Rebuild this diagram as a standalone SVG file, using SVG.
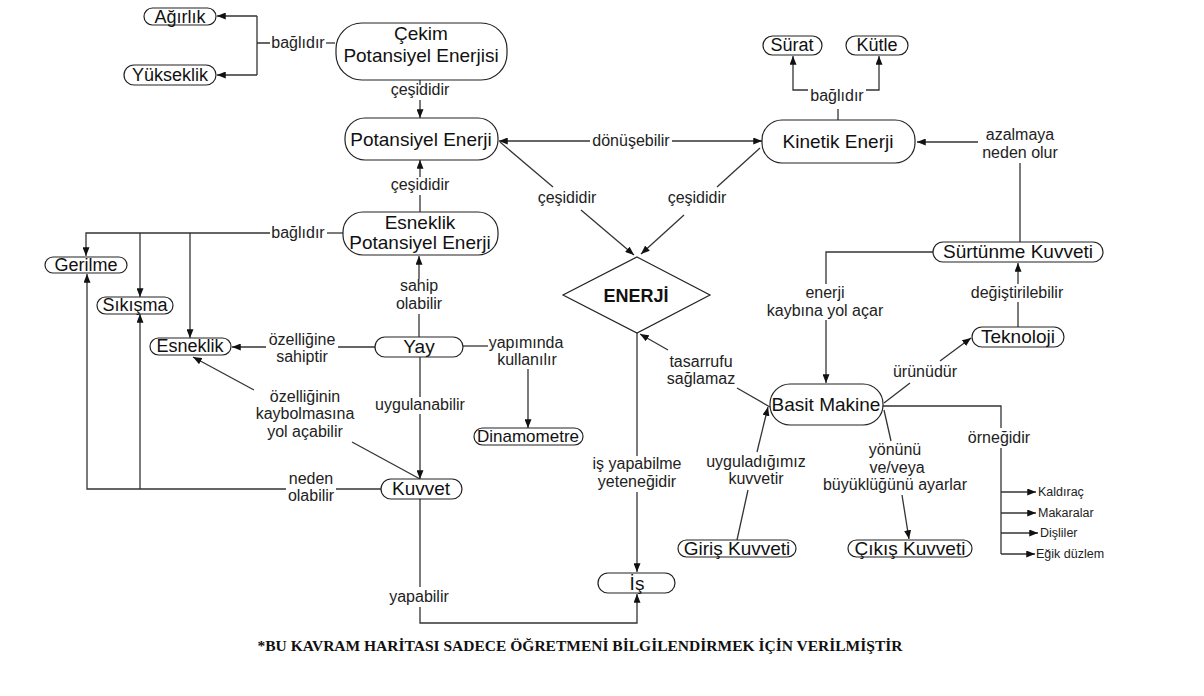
<svg xmlns="http://www.w3.org/2000/svg" width="1204" height="696" viewBox="0 0 1204 696">
<style>
.box{fill:#fff;stroke:#222;stroke-width:1.2}
.n{font-family:"Liberation Sans",Arial,sans-serif;font-size:19px;text-anchor:middle;fill:#111}
.ns{font-size:18px}
.l{font-family:"Liberation Sans",Arial,sans-serif;font-size:16px;text-anchor:middle;fill:#222}
.li{font-family:"Liberation Sans",Arial,sans-serif;font-size:12.5px;fill:#222}
.ft{font-family:"Liberation Serif","Times New Roman",serif;font-size:14.5px;font-weight:bold;fill:#111;text-anchor:middle}
#connectors path{fill:none;stroke:#333;stroke-width:1.3}
</style>
<defs>
<marker id="ah" viewBox="0 0 10 8" refX="10" refY="4" markerWidth="9" markerHeight="7" markerUnits="userSpaceOnUse" orient="auto">
<path d="M0,0 L10,4 L0,8 z" fill="#111"/>
</marker>
</defs>
<rect width="1204" height="696" fill="#fff"/>

<g id="connectors">
<path d="M335,43 H326"/>
<path d="M270,43 H257 M257,16 V75"/>
<path d="M257,16 H217" marker-end="url(#ah)"/>
<path d="M257,75 H217" marker-end="url(#ah)"/>
<path d="M420,80 V85"/>
<path d="M420,100 V118" marker-end="url(#ah)"/>
<path d="M420,212 V195"/>
<path d="M420,177 V160" marker-end="url(#ah)"/>
<path d="M590,141 H499" marker-end="url(#ah)"/>
<path d="M672,141 H762" marker-end="url(#ah)"/>
<path d="M500,142 L553,187"/>
<path d="M581,210 L634,255" marker-end="url(#ah)"/>
<path d="M760,148 L717,187"/>
<path d="M684,215 L641,254" marker-end="url(#ah)"/>
<path d="M343,233 H327"/>
<path d="M270,233 H86 V256" marker-end="url(#ah)"/>
<path d="M140,233 V297" marker-end="url(#ah)"/>
<path d="M190,233 V338" marker-end="url(#ah)"/>
<path d="M419,337 V314"/>
<path d="M419,279 V256" marker-end="url(#ah)"/>
<path d="M375,347 H338"/>
<path d="M266,347 H232" marker-end="url(#ah)"/>
<path d="M463,346 H488"/>
<path d="M528,369 V428" marker-end="url(#ah)"/>
<path d="M420,357 V397"/>
<path d="M420,414 V479" marker-end="url(#ah)"/>
<path d="M420,479 L352,442"/>
<path d="M254,390 L193,357" marker-end="url(#ah)"/>
<path d="M381,489 H336"/>
<path d="M286,489 H87 V274" marker-end="url(#ah)"/>
<path d="M140,489 V314" marker-end="url(#ah)"/>
<path d="M420,499 V587"/>
<path d="M420,607 V623 H637 V594" marker-end="url(#ah)"/>
<path d="M637,333 V456"/>
<path d="M637,492 V572" marker-end="url(#ah)"/>
<path d="M770,407 L737,388"/>
<path d="M668,350 L640,334" marker-end="url(#ah)"/>
<path d="M1020,242 V163"/>
<path d="M978,142 H917" marker-end="url(#ah)"/>
<path d="M933,252 H826 V284"/>
<path d="M826,320 V383" marker-end="url(#ah)"/>
<path d="M1018,327 V302"/>
<path d="M1018,284 V263" marker-end="url(#ah)"/>
<path d="M884,403 L910,383"/>
<path d="M940,361 L971,338" marker-end="url(#ah)"/>
<path d="M883,406 H1001 V428"/>
<path d="M1001,448 V554"/>
<path d="M1001,492 H1036" marker-end="url(#ah)"/>
<path d="M1001,513 H1036" marker-end="url(#ah)"/>
<path d="M1001,533 H1038" marker-end="url(#ah)"/>
<path d="M1001,554 H1035" marker-end="url(#ah)"/>
<path d="M737,540 L748,490"/>
<path d="M757,452 L768,407" marker-end="url(#ah)"/>
<path d="M884,410 L891,441"/>
<path d="M902,495 L909,539" marker-end="url(#ah)"/>
<path d="M838,120 V109"/>
<path d="M808,90 H793 V56" marker-end="url(#ah)"/>
<path d="M866,90 H879 V56" marker-end="url(#ah)"/>
</g>

<g id="labels">
<text class="l" x="298" y="48">bağlıdır</text>
<text class="l" x="420" y="95">çeşididir</text>
<text class="l" x="420" y="190">çeşididir</text>
<text class="l" x="631" y="146">dönüşebilir</text>
<text class="l" x="567" y="203">çeşididir</text>
<text class="l" x="697" y="203">çeşididir</text>
<text class="l" x="837" y="101">bağlıdır</text>
<text class="l" x="1020" y="140">azalmaya</text>
<text class="l" x="1020" y="158">neden olur</text>
<text class="l" x="298" y="238">bağlıdır</text>
<text class="l" x="419" y="291">sahip</text>
<text class="l" x="419" y="309">olabilir</text>
<text class="l" x="302" y="345">özelliğine</text>
<text class="l" x="302" y="362">sahiptir</text>
<text class="l" x="526" y="348">yapımında</text>
<text class="l" x="527" y="365">kullanılır</text>
<text class="l" x="420" y="410">uygulanabilir</text>
<text class="l" x="305" y="402">özelliğinin</text>
<text class="l" x="305" y="419">kaybolmasına</text>
<text class="l" x="305" y="437">yol açabilir</text>
<text class="l" x="311" y="484">neden</text>
<text class="l" x="311" y="501">olabilir</text>
<text class="l" x="419" y="602">yapabilir</text>
<text class="l" x="637" y="469">iş yapabilme</text>
<text class="l" x="637" y="487">yeteneğidir</text>
<text class="l" x="701" y="367">tasarrufu</text>
<text class="l" x="701" y="384">sağlamaz</text>
<text class="l" x="825" y="298">enerji</text>
<text class="l" x="825" y="316">kaybına yol açar</text>
<text class="l" x="1017" y="298">değiştirilebilir</text>
<text class="l" x="925" y="377">ürünüdür</text>
<text class="l" x="999" y="443">örneğidir</text>
<text class="l" x="756" y="467">uyguladığımız</text>
<text class="l" x="756" y="484">kuvvetir</text>
<text class="l" x="895" y="455">yönünü</text>
<text class="l" x="897" y="473">ve/veya</text>
<text class="l" x="895" y="490">büyüklüğünü ayarlar</text>
<text class="li" x="1038" y="496">Kaldıraç</text>
<text class="li" x="1038" y="517">Makaralar</text>
<text class="li" x="1040" y="537">Dişliler</text>
<text class="li" x="1036" y="558">Eğik düzlem</text>
</g>

<g id="agirlik"><rect class="box" x="144" y="8" width="72" height="17" rx="8.5"/><text class="n ns" x="180" y="23">Ağırlık</text></g>
<g id="yukseklik"><rect class="box" x="124" y="65" width="92" height="20" rx="10"/><text class="n ns" x="170" y="81">Yükseklik</text></g>
<g id="cekim"><rect class="box" x="336" y="23" width="171" height="57" rx="26"/><text class="n" x="421" y="40">Çekim</text><text class="n" x="421" y="62">Potansiyel Enerjisi</text></g>
<g id="potansiyel"><rect class="box" x="345" y="118" width="153" height="42" rx="20"/><text class="n" x="421" y="146">Potansiyel Enerji</text></g>
<g id="esneklikpe"><rect class="box" x="343" y="212" width="155" height="43" rx="20"/><text class="n" x="420" y="229">Esneklik</text><text class="n" x="420" y="249">Potansiyel Enerji</text></g>
<g id="kinetik"><rect class="box" x="762" y="120" width="153" height="43" rx="20"/><text class="n" x="838" y="148">Kinetik Enerji</text></g>
<g id="surat"><rect class="box" x="763" y="36" width="59" height="19" rx="9.5"/><text class="n ns" x="792" y="51">Sürat</text></g>
<g id="kutle"><rect class="box" x="846" y="36" width="62" height="19" rx="9.5"/><text class="n ns" x="877" y="51">Kütle</text></g>
<g id="enerji"><polygon points="637,257 710,295 637,333 563,295" fill="#fff" stroke="#222" stroke-width="1.2"/><text x="636" y="302" font-family="Liberation Sans, Arial, sans-serif" font-size="18" font-weight="bold" text-anchor="middle" fill="#111">ENERJİ</text></g>
<g id="gerilme"><rect class="box" x="45" y="257" width="82" height="16" rx="8"/><text class="n ns" x="86" y="271">Gerilme</text></g>
<g id="sikisma"><rect class="box" x="97" y="297" width="76" height="17" rx="8.5"/><text class="n ns" x="135" y="311">Sıkışma</text></g>
<g id="esneklik"><rect class="box" x="150" y="338" width="81" height="17" rx="8.5"/><text class="n ns" x="190" y="352">Esneklik</text></g>
<g id="yay"><rect class="box" x="375" y="337" width="88" height="20" rx="10"/><text class="n" x="419" y="353">Yay</text></g>
<g id="dinamometre"><rect class="box" x="474" y="428" width="109" height="17" rx="8.5"/><text class="n" x="528" y="442" style="font-size:17px">Dinamometre</text></g>
<g id="kuvvet"><rect class="box" x="381" y="479" width="81" height="20" rx="10"/><text class="n" x="421" y="495">Kuvvet</text></g>
<g id="is"><rect class="box" x="598" y="573" width="77" height="20" rx="10"/><text class="n" x="637" y="590">İş</text></g>
<g id="basitmakine"><rect class="box" x="770" y="384" width="113" height="41" rx="20"/><text class="n" x="826" y="411">Basit Makine</text></g>
<g id="surtunme"><rect class="box" x="933" y="242" width="170" height="20" rx="10"/><text class="n" x="1018" y="258">Sürtünme Kuvveti</text></g>
<g id="teknoloji"><rect class="box" x="972" y="327" width="92" height="20" rx="10"/><text class="n" x="1018" y="343">Teknoloji</text></g>
<g id="giris"><rect class="box" x="678" y="540" width="118" height="17" rx="8.5"/><text class="n" x="737" y="555">Giriş Kuvveti</text></g>
<g id="cikis"><rect class="box" x="848" y="540" width="124" height="17" rx="8.5"/><text class="n" x="910" y="555">Çıkış Kuvveti</text></g>

<text class="ft" x="580" y="651" textLength="645" lengthAdjust="spacingAndGlyphs">*BU KAVRAM HARİTASI SADECE ÖĞRETMENİ BİLGİLENDİRMEK İÇİN VERİLMİŞTİR</text>
</svg>
